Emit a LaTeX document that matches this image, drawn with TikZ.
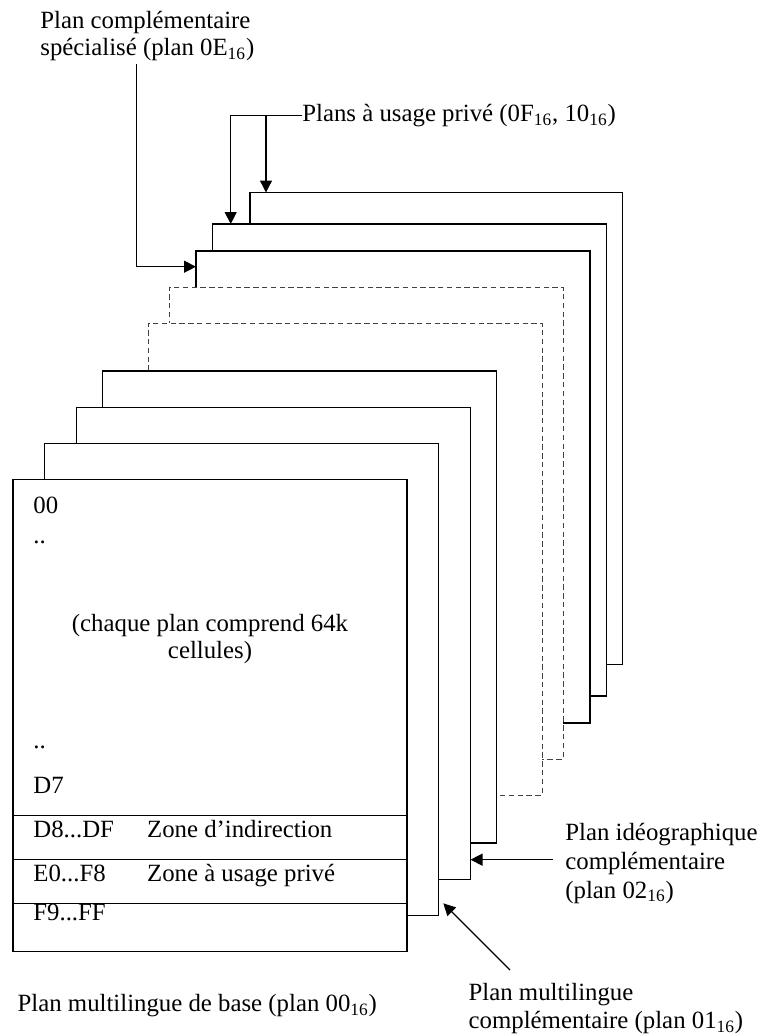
\documentclass[tikz,border=0pt]{standalone}
\usepackage{fontspec}
\setmainfont{Liberation Serif}
\usepackage{tikz}
\usetikzlibrary{arrows.meta,positioning,calc}
\tikzset{
    plane/.style={draw,fill=white,line width=0.85pt,
      minimum width=197pt,minimum height=236pt,inner sep=0pt,outer sep=0pt,
      anchor=north west},
    spare/.style={plane,draw=black!75,line width=0.5pt,dash pattern=on 2.7pt off 1.7pt},
    rowcell/.style={draw,line width=0.5pt,minimum width=197pt,minimum height=22pt,
      inner sep=0pt,outer sep=0pt},
    celltext/.style={inner sep=0pt,anchor=base west},
    caption/.style={inner sep=0pt,align=left,anchor=north west},
    widecaption/.style={caption,font=\fontsize{12.4}{14.4}\selectfont},
    pointer/.style={-{Triangle[length=6pt,width=6pt]},line width=0.65pt}
}

\begin{document}
\begin{tikzpicture}[x=0.5pt,y=-0.5pt,font=\fontsize{12.4}{13.75}\selectfont]
  \useasboundingbox (0,0) rectangle (764,1034);
  % planes, back to front
  \node[plane,minimum width=186.25pt] (p10) at (250,192.5) {};
  \node[plane] (p0F) at (212.5,224) {};
  \node[plane] (p0E) at (196,251) {};
  \node[spare] (pd2) at (169,287) {};
  \node[spare] (pd1) at (148,323) {};
  \node[plane] (p03) at (102.5,371) {};
  \node[plane] (p02) at (76.5,407.5) {};
  \node[plane] (p01) at (44.5,443.5) {};
  \node[plane] (p00) at (13,479.5) {};
  % rows of the base plane
  \node[rowcell,minimum height=24pt,anchor=south west] (rF9) at (p00.south west) {};
  \node[rowcell,above=0pt of rF9] (rE0) {};
  \node[rowcell,above=0pt of rE0] (rD8) {};
  \node[celltext] (t00) at ($(p00.north west)+(20,33.5)$) {00};
  \node[celltext] (tdots1) at ($(p00.north west)+(20,63.5)$) {..};
  \node[inner sep=0pt,align=center] (tcells) at ($(p00.north west)+(197,159.6)$)
    {(chaque plan comprend 64k\\cellules)};
  \node[celltext] (tdots2) at ($(p00.north west)+(20,268.5)$) {..};
  \node[celltext] (tD7) at ($(p00.north west)+(20,313.8)$) {D7};
  \node[celltext] (tD8) at ($(rD8.north west)+(20,21.8)$) {D8...DF};
  \node[celltext] (zD8) at ($(rD8.north west)+(133.7,21.8)$) {Zone d’indirection};
  \node[celltext] (tE0) at ($(rE0.north west)+(20,22.4)$) {E0...F8};
  \node[celltext] (zE0) at ($(rE0.north west)+(133.7,22.4)$) {Zone à usage privé};
  \node[celltext] (tF9) at ($(rF9.north west)+(20,17.4)$) {F9...FF};
  % captions
  \node[caption] (lbl0E) at (40,10.8) {Plan complémentaire\\spécialisé (plan 0E\textsubscript{16})};
  \node[celltext] (lblprive) at (302,121.7) {Plans à usage privé (0F\textsubscript{16}, 10\textsubscript{16})};
  \node[widecaption] (lbl02) at (565,822.8) {Plan idéographique\\complémentaire\\(plan 02\textsubscript{16})};
  \node[widecaption] (lbl01) at (468.3,982.5) {Plan multilingue\\complémentaire (plan 01\textsubscript{16})};
  \node[celltext] (lbl00) at (17.3,1011.7) {Plan multilingue de base (plan 00\textsubscript{16})};
  % pointers
  \draw[pointer] ($(lbl0E.south west)+(96.7,2.6)$) |- ($(p0E.north west)+(0,15.7)$);
  \coordinate (t0F) at ($(p0F.north west)+(18.2,0)$);
  \coordinate (t10) at ($(p10.north west)+(16,0)$);
  \draw[pointer] (lblprive.west) -| (t0F);
  \draw[pointer] (t10 |- lblprive.west) -- (t10);
  \coordinate (s02) at ($(lbl02.west)+(-12,-3.6)$);
  \draw[pointer] (s02) -- (p02.east |- s02);
  \draw[pointer] ($(lbl01.north west)+(41.7,-12.5)$) -- ($(p01.south east)+(4.8,-12.2)$);
\end{tikzpicture}
\end{document}
